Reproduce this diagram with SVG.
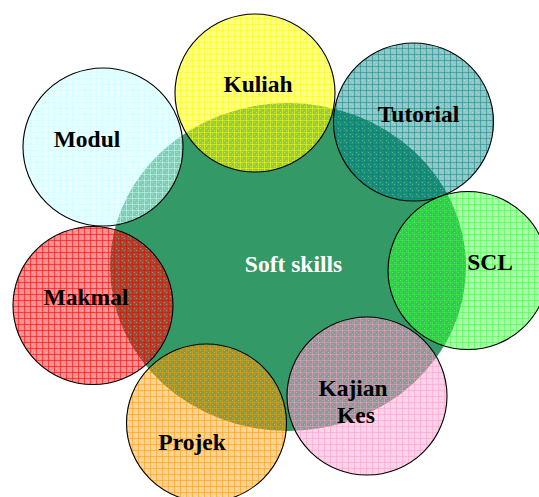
<svg xmlns="http://www.w3.org/2000/svg" width="539" height="497" viewBox="0 0 539 497">
<style>
.c{stroke:#000;stroke-width:1.1}
.t{font-family:"Liberation Serif","Times New Roman",serif;font-weight:bold;font-size:23.5px;text-anchor:middle;fill:#000}
.w{fill:#fff}
</style>
<defs>
<pattern id="pModul" width="6" height="6" patternUnits="userSpaceOnUse"><rect width="6" height="6" fill="#ccffff" fill-opacity="0.5"/><rect width="6" height="1" fill="#ccffff" fill-opacity="0.5"/><rect width="1" height="6" fill="#ccffff" fill-opacity="0.5"/><rect x="2" y="2" width="1" height="1" fill="#fff" fill-opacity="0.4"/><rect x="4" y="4" width="1" height="1" fill="#fff" fill-opacity="0.4"/></pattern>
<pattern id="pKuliah" width="6" height="6" patternUnits="userSpaceOnUse"><rect width="6" height="6" fill="#ffff00" fill-opacity="0.5"/><rect width="6" height="1" fill="#ffff00" fill-opacity="0.5"/><rect width="1" height="6" fill="#ffff00" fill-opacity="0.5"/><rect x="2" y="2" width="1" height="1" fill="#fff" fill-opacity="0.4"/><rect x="4" y="4" width="1" height="1" fill="#fff" fill-opacity="0.4"/></pattern>
<pattern id="pTutorial" width="6" height="6" patternUnits="userSpaceOnUse"><rect width="6" height="6" fill="#008080" fill-opacity="0.45"/><rect width="6" height="1" fill="#008080" fill-opacity="0.45"/><rect width="1" height="6" fill="#008080" fill-opacity="0.45"/><rect x="2" y="2" width="1" height="1" fill="#fff" fill-opacity="0.3"/><rect x="4" y="4" width="1" height="1" fill="#fff" fill-opacity="0.3"/></pattern>
<pattern id="pSCL" width="6" height="6" patternUnits="userSpaceOnUse"><rect width="6" height="6" fill="#33ff33" fill-opacity="0.45"/><rect width="6" height="1" fill="#33ff33" fill-opacity="0.45"/><rect width="1" height="6" fill="#33ff33" fill-opacity="0.45"/><rect x="2" y="2" width="1" height="1" fill="#fff" fill-opacity="0.3"/><rect x="4" y="4" width="1" height="1" fill="#fff" fill-opacity="0.3"/></pattern>
<pattern id="pKajian" width="6" height="6" patternUnits="userSpaceOnUse"><rect width="6" height="6" fill="#ff99cc" fill-opacity="0.45"/><rect width="6" height="1" fill="#ff99cc" fill-opacity="0.5"/><rect width="1" height="6" fill="#ff99cc" fill-opacity="0.5"/><rect x="2" y="2" width="1" height="1" fill="#fff" fill-opacity="0.3"/><rect x="4" y="4" width="1" height="1" fill="#fff" fill-opacity="0.3"/></pattern>
<pattern id="pProjek" width="6" height="6" patternUnits="userSpaceOnUse"><rect width="6" height="6" fill="#ff9900" fill-opacity="0.45"/><rect width="6" height="1" fill="#ff9900" fill-opacity="0.5"/><rect width="1" height="6" fill="#ff9900" fill-opacity="0.5"/><rect x="2" y="2" width="1" height="1" fill="#fff" fill-opacity="0.3"/><rect x="4" y="4" width="1" height="1" fill="#fff" fill-opacity="0.3"/></pattern>
<pattern id="pMakmal" width="6" height="6" patternUnits="userSpaceOnUse"><rect width="6" height="6" fill="#ff0000" fill-opacity="0.45"/><rect width="6" height="1" fill="#ff0000" fill-opacity="0.55"/><rect width="1" height="6" fill="#ff0000" fill-opacity="0.55"/><rect x="2" y="2" width="1" height="1" fill="#fff" fill-opacity="0.3"/><rect x="4" y="4" width="1" height="1" fill="#fff" fill-opacity="0.3"/></pattern>
</defs>
<g id="softskills">
<ellipse cx="288" cy="267" rx="178" ry="164" fill="#339966"/>
</g>
<g id="kuliah"><ellipse class="c" cx="255" cy="93" rx="80" ry="79" fill="url(#pKuliah)"/><text class="t" x="258" y="92">Kuliah</text></g>
<g id="modul"><ellipse class="c" cx="103" cy="147" rx="80" ry="79" fill="url(#pModul)"/><text class="t" x="87" y="147">Modul</text></g>
<g id="tutorial"><ellipse class="c" cx="413.5" cy="122" rx="80" ry="79" fill="url(#pTutorial)"/><text class="t" x="418.5" y="122">Tutorial</text></g>
<g id="scl"><ellipse class="c" cx="468" cy="270.5" rx="80" ry="79" fill="url(#pSCL)"/><text class="t" x="490" y="270">SCL</text></g>
<g id="kajian"><ellipse class="c" cx="367" cy="396" rx="80" ry="79" fill="url(#pKajian)"/><text class="t" x="353" y="396">Kajian</text><text class="t" x="356" y="423">Kes</text></g>
<g id="projek"><ellipse class="c" cx="206.5" cy="423" rx="80" ry="79" fill="url(#pProjek)"/><text class="t" x="192" y="450">Projek</text></g>
<g id="makmal"><ellipse class="c" cx="93" cy="305.5" rx="80" ry="79" fill="url(#pMakmal)"/><text class="t" x="86" y="305">Makmal</text></g>
<g id="label"><text class="t w" x="293.5" y="272">Soft skills</text></g>
<g id="connectors"/>
</svg>
